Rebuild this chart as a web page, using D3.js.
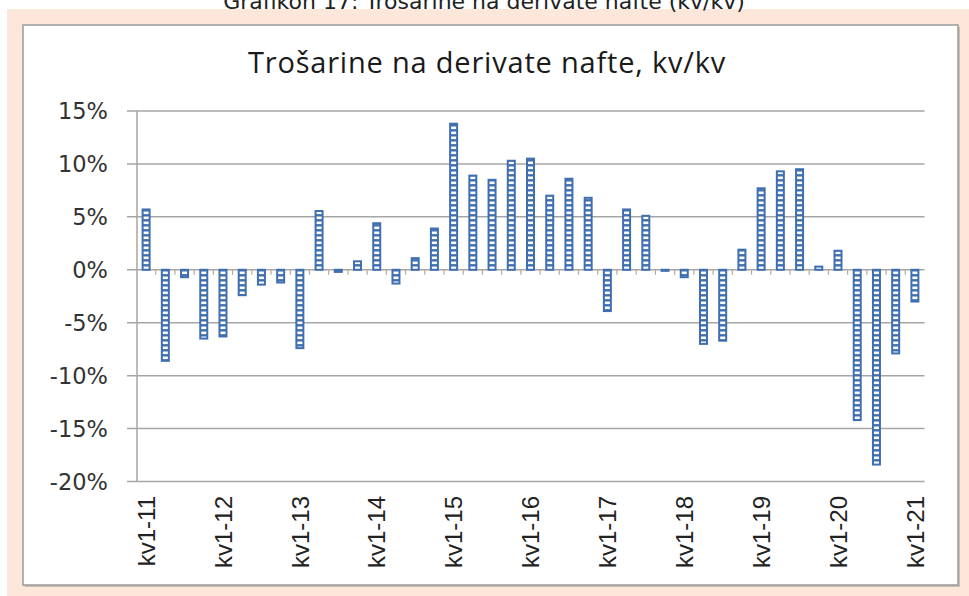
<!DOCTYPE html>
<html>
<head>
<meta charset="utf-8">
<script src="https://cdn.jsdelivr.net/npm/d3@7"></script>
<style>
  body { margin: 0; background: #fff; }
  svg { display: block; }
</style>
</head>
<body>
<svg></svg>
<script>
var width = 969,
    height = 596;

// quarters, kv1-11 .. kv1-21
var categories = [
    "kv1-11", "kv2-11", "kv3-11", "kv4-11",
    "kv1-12", "kv2-12", "kv3-12", "kv4-12",
    "kv1-13", "kv2-13", "kv3-13", "kv4-13",
    "kv1-14", "kv2-14", "kv3-14", "kv4-14",
    "kv1-15", "kv2-15", "kv3-15", "kv4-15",
    "kv1-16", "kv2-16", "kv3-16", "kv4-16",
    "kv1-17", "kv2-17", "kv3-17", "kv4-17",
    "kv1-18", "kv2-18", "kv3-18", "kv4-18",
    "kv1-19", "kv2-19", "kv3-19", "kv4-19",
    "kv1-20", "kv2-20", "kv3-20", "kv4-20",
    "kv1-21"
];

// yoy change, %
var values = [
    5.7, -8.6, -0.7, -6.5, -6.3, -2.4, -1.4, -1.2,
    -7.4, 5.55, -0.2, 0.8, 4.4, -1.3, 1.1, 3.9,
    13.8, 8.9, 8.5, 10.3, 10.5, 7.0, 8.6, 6.8,
    -3.9, 5.7, 5.1, -0.1, -0.7, -7.0, -6.7, 1.9,
    7.7, 9.3, 9.5, 0.3, 1.8, -14.2, -18.4, -7.9,
    -3.0
];

var tickLabels = ["kv1-11", "kv1-12", "kv1-13", "kv1-14", "kv1-15", "kv1-16",
    "kv1-17", "kv1-18", "kv1-19", "kv1-20", "kv1-21"];

var yTicks = [-20, -15, -10, -5, 0, 5, 10, 15];

var svg = d3.select("svg")
    .attr("width", width)
    .attr("height", height);

// page background + chart panel
svg.append("rect")
    .attr("x", 7).attr("y", 9)
    .attr("width", width - 7).attr("height", height - 9)
    .attr("fill", "#fce7da");

// caption above the frame, cut off at the top like in the source
svg.append("text")
    .attr("x", 484).attr("y", 9)
    .attr("text-anchor", "middle")
    .style("font-family", "DejaVu Sans")
    .style("font-size", "22px")
    .attr("fill", "#222")
    .text("Grafikon 17: Trošarine na derivate nafte (kv/kv)");

svg.append("rect") // soft shadow
    .attr("x", 25).attr("y", 27)
    .attr("width", 935).attr("height", 560)
    .attr("fill", "#c9bdb5");

svg.append("rect")
    .attr("x", 23).attr("y", 25)
    .attr("width", 935).attr("height", 560)
    .attr("fill", "#fff")
    .attr("stroke", "#9a9a9a")
    .attr("stroke-width", 1.5);

svg.append("text")
    .attr("x", 487).attr("y", 73)
    .attr("text-anchor", "middle")
    .style("font-family", "Open Sans")
    .style("font-size", "29px")
    .style("letter-spacing", "0.8px")
    .attr("fill", "#1a1a1a")
    .text("Trošarine na derivate nafte, kv/kv");

// hatch pattern for bars
var defs = svg.append("defs");
var pat = defs.append("pattern")
    .attr("id", "hatch")
    .attr("patternUnits", "userSpaceOnUse")
    .attr("width", 4)
    .attr("height", 5);
pat.append("rect").attr("width", 4).attr("height", 5).attr("fill", "#3f6fb0");
pat.append("rect").attr("y", 1.5).attr("width", 4).attr("height", 2.6).attr("fill", "#fff");

var x = d3.scaleBand()
    .domain(categories)
    .range([136.5, 924.5])
    .paddingInner(0.636)
    .paddingOuter(0.318);

var y = d3.scaleLinear()
    .domain([-20, 15])
    .range([481.5, 111]);

var step = x.step(),
    gap = step - x.bandwidth();

// gridlines
svg.append("g")
    .selectAll("line")
    .data(yTicks)
    .enter().append("line")
    .attr("x1", 127)
    .attr("x2", 924.5)
    .attr("y1", d => y(d))
    .attr("y2", d => y(d))
    .attr("stroke", "#a6a6a6")
    .attr("stroke-width", 1.5);

// y axis line
svg.append("line")
    .attr("x1", 137).attr("x2", 137)
    .attr("y1", y(15)).attr("y2", y(-20))
    .attr("stroke", "#a6a6a6")
    .attr("stroke-width", 1.5);

// y labels
svg.append("g")
    .selectAll("text")
    .data(yTicks)
    .enter().append("text")
    .attr("x", 108)
    .attr("y", d => y(d))
    .attr("dy", "0.36em")
    .attr("text-anchor", "end")
    .style("font-family", "DejaVu Sans")
    .style("font-size", "22.5px")
    .attr("fill", "#333")
    .text(d => d + "%");

// category ticks on the zero line
svg.append("g")
    .selectAll("line")
    .data(categories.slice(1))
    .enter().append("line")
    .attr("x1", d => x(d) - gap / 2)
    .attr("x2", d => x(d) - gap / 2)
    .attr("y1", y(0))
    .attr("y2", y(0) + 5)
    .attr("stroke", "#b9ab95")
    .attr("stroke-width", 1.2);

// bars
svg.append("g")
    .selectAll("rect")
    .data(values)
    .enter().append("rect")
    .attr("x", (d, i) => x(categories[i]))
    .attr("width", x.bandwidth())
    .attr("y", d => y(Math.max(0, d)))
    .attr("height", d => Math.max(1, Math.abs(y(d) - y(0))))
    .attr("fill", "url(#hatch)")
    .attr("stroke", "#3f6fb0")
    .attr("stroke-width", 2);

// x labels
svg.append("g")
    .selectAll("text")
    .data(tickLabels)
    .enter().append("text")
    .attr("transform", d => "translate(" + [x(d) + x.bandwidth() / 2, 496] + ") rotate(-90)")
    .attr("dy", "0.36em")
    .attr("text-anchor", "end")
    .style("font-family", "Liberation Sans")
    .style("font-size", "24px")
    .attr("fill", "#222")
    .text(d => d);
</script>
</body>
</html>
